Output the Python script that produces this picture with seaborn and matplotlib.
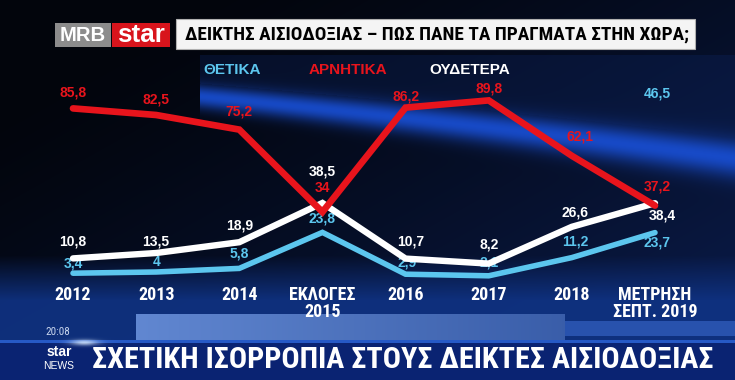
import numpy as np
import pandas as pd
import matplotlib
matplotlib.use("Agg")
import matplotlib.pyplot as plt
import seaborn as sns
from matplotlib import font_manager as fm
from matplotlib.patches import Rectangle

# ---------------- data ----------------
categories = ["2012", "2013", "2014", "ΕΚΛΟΓΕΣ\n2015", "2016", "2017", "2018", "ΜΕΤΡΗΣΗ\nΣΕΠΤ. 2019"]
positive = [3.4, 4, 5.8, 23.8, 2.9, 2.1, 11.2, 23.7]
negative = [85.8, 82.5, 75.2, 34, 86.2, 89.8, 62.1, 37.2]
neutral = [10.8, 13.5, 18.9, 38.5, 10.7, 8.2, 26.6, 38.4]
series_names = ["ΘΕΤΙΚΑ", "ΑΡΝΗΤΙΚΑ", "ΟΥΔΕΤΕΡΑ"]
extra_positive_label = 46.5
title_text = "ΔΕΙΚΤΗΣ ΑΙΣΙΟΔΟΞΙΑΣ – ΠΩΣ ΠΑΝΕ ΤΑ ΠΡΑΓΜΑΤΑ ΣΤΗΝ ΧΩΡΑ;"
headline_text = "ΣΧΕΤΙΚΗ ΙΣΟΡΡΟΠΙΑ ΣΤΟΥΣ ΔΕΙΚΤΕΣ ΑΙΣΙΟΔΟΞΙΑΣ"
time_text = "20:08"

# ---------------- style ----------------
sns.set_theme(style="dark")
plt.rcParams["font.family"] = ["Liberation Sans", "DejaVu Sans"]


def find_narrow():
    for fam in ["Liberation Sans Narrow", "Roboto Condensed", "Open Sans Condensed"]:
        try:
            fm.findfont(fm.FontProperties(family=fam), fallback_to_default=False)
            return dict(family=fam)
        except Exception:
            pass
    return dict(family="DejaVu Sans", stretch="condensed")


NARROW = find_narrow()

C_POS = "#5cc6ee"
C_NEG = "#e8141c"
C_NEU = "#ffffff"

W, H = 735, 380
fig = plt.figure(figsize=(W / 100, H / 100), dpi=100)

# ---------------- background (pixel coordinates) ----------------
bg = fig.add_axes([0, 0, 1, 1])
bg.set_axis_off()
yy, xx = np.mgrid[0:H, 0:W].astype(float)
xf = xx / W
yf = yy / H


def mix(a, b, t):
    return a * (1 - t[..., None]) + np.asarray(b) * t[..., None]


black = np.array([0.01, 0.02, 0.05])
navy = np.array([0.04, 0.11, 0.30])
blue = np.array([0.06, 0.20, 0.52])
t = np.clip(0.65 * xf + 0.6 * yf - 0.2, 0, 1) ** 1.2
img = mix(np.broadcast_to(black, (H, W, 3)), navy, t)
# bluer area under the chart (x-label strip)
b = np.clip((yy - 255) / 45, 0, 1)
img = mix(img, blue, b * 0.9)

# swoosh: soft glowing band across the chart
cx = np.array([200, 400, 735.0])
cy = np.array([96, 117, 158.0])
coef = np.polyfit(cx, cy, 2)
center = np.polyval(coef, xx)
half = 13 + 8 * np.clip((xx - 200) / 535, 0, 1)
d = (yy - center) / half
glow = np.exp(-d ** 2 * 1.2) * (xx >= 200)
img = mix(img, [0.10, 0.32, 0.86], glow * 0.88)
# faint lighter panel above the swoosh
panel = ((xx >= 200) & (yy >= 55) & (yy < center - half)) * 0.3
img = mix(img, [0.05, 0.15, 0.40], panel)

# light band under the x labels
band1 = ((xx >= 136) & (xx < 565) & (yy >= 314) & (yy < 340)).astype(float)
lb = np.clip(1 - (xx - 136) / 900, 0.45, 1)
img = mix(img, [0.38, 0.53, 0.82], band1 * lb)
band2 = ((xx >= 565) & (yy >= 321) & (yy < 336)).astype(float)
img = mix(img, [0.20, 0.38, 0.76], band2 * 0.7)
# bottom banner
banner = (yy >= 342).astype(float)
img = mix(img, [0.04, 0.14, 0.45], banner)
edge = ((yy >= 340) & (yy < 343)).astype(float)
img = mix(img, [0.15, 0.35, 0.78], edge)
# small flare near the clock
flare = np.exp(-(((xx - 84) / 14) ** 2 + ((yy - 342) / 3) ** 2))
img = mix(img, [0.85, 0.92, 1.0], flare * 0.8)

bg.imshow(np.clip(img, 0, 1), extent=(0, W, H, 0), aspect="auto", zorder=0, interpolation="bilinear")
bg.set_xlim(0, W)
bg.set_ylim(H, 0)

# title bar
bg.add_patch(Rectangle((176, 19), 519, 30, facecolor="#f4f4f4", edgecolor="#b0b0b0", lw=0.8, zorder=3))
bg.add_patch(Rectangle((55, 23), 56, 24, color="#8c8c8c", lw=0, zorder=3))
bg.add_patch(Rectangle((112, 23), 58, 24, color="#d8141c", lw=0, zorder=3))

renderer = fig.canvas.get_renderer()


def fit(txt, width):
    bb = txt.get_window_extent(renderer)
    txt.set_fontsize(txt.get_fontsize() * width / bb.width)


t_title = bg.text(437, 34.5, title_text, ha="center", va="center", color="black",
                  fontweight="bold", fontsize=20, zorder=4, **NARROW)
fit(t_title, 504)
t_mrb = bg.text(83, 35.5, "MRB", ha="center", va="center", color="white",
                fontweight="bold", fontsize=14, zorder=4)
fit(t_mrb, 46)
t_star = bg.text(141, 35, "star", ha="center", va="center", color="white",
                 fontweight="bold", fontsize=14, zorder=4)
fit(t_star, 48)

# legend-like header
for name, col, x in zip(series_names, [C_POS, C_NEG, C_NEU], [232, 348, 470]):
    bg.text(x, 70, name, ha="center", va="center", color=col, fontweight="bold", fontsize=11, zorder=4)

# stray label at top right
bg.text(657, 93, f"{extra_positive_label}".replace(".", ","), ha="center", va="center",
        color=C_POS, fontweight="bold", fontsize=10, zorder=4)

# bottom texts
bg.text(58, 332, time_text, ha="center", va="center", color="#c9d6ee", fontsize=8, zorder=4, **NARROW)
bg.text(59, 352, "star", ha="center", va="center", color="white", fontweight="bold", fontsize=10, zorder=4)
bg.text(59, 366, "NEWS", ha="center", va="center", color="white", fontsize=7.5, zorder=4)
t_head = bg.text(402.5, 360, headline_text, ha="center", va="center", color="white",
                 fontweight="bold", fontsize=26, zorder=4, **NARROW)
fit(t_head, 619)

# ---------------- chart ----------------
ax = fig.add_axes([0, 0, 1, 1])
ax.patch.set_alpha(0)
X0, XS = 73, (655 - 73) / 7
Y0, YS = 280, 2.0
n = len(categories)
df = pd.DataFrame({
    "idx": list(range(n)) * 3,
    "value": positive + neutral + negative,
    "series": [series_names[0]] * n + [series_names[2]] * n + [series_names[1]] * n,
})
sns.lineplot(data=df, x="idx", y="value", hue="series",
             hue_order=[series_names[0], series_names[2], series_names[1]],
             palette={series_names[0]: C_POS, series_names[1]: C_NEG, series_names[2]: C_NEU},
             linewidth=4.3, legend=False, ax=ax)
for ln, lw in zip(ax.lines, [4.0, 4.6, 4.8]):
    ln.set_linewidth(lw)
    ln.set_solid_joinstyle("miter")
    ln.set_zorder(3)
ax.set_xlim(-X0 / XS, (W - X0) / XS)
ax.set_ylim(-(H - Y0) / YS, Y0 / YS)
ax.set_axis_off()


def fmt(v):
    return f"{v:g}".replace(".", ",")


# label offsets (pixels)
neg_off = [(0, 16), (0, 16), (0, 18), (0, 24), (0, 11), (0, 12), (8, 19), (2, 19)]
neu_off = [(0, 17), (0, 12), (0, 17), (0, 32), (5, 17), (0, 19), (3, 14), (7, -12)]
pos_off = [(0, 10), (0, 10), (0, 15), (0, 14), (2, 12), (0, 13), (3, 16), (2, -10)]

for vals, offs, col, z in [(negative, neg_off, C_NEG, 2.5), (neutral, neu_off, C_NEU, 5),
                           (positive, pos_off, C_POS, 2.5)]:
    for i, (v, (dx, dy)) in enumerate(zip(vals, offs)):
        ax.annotate(fmt(v), (i, v), xytext=(dx, dy), textcoords="offset pixels",
                    ha="center", va="center", color=col, fontsize=10, fontweight="bold", zorder=z)

# category labels
for i, cat in enumerate(categories):
    for k, line in enumerate(cat.split("\n")):
        ax.text(i, (Y0 - (300 + 17 * k)) / YS, line, ha="center", va="baseline",
                color="white", fontweight="bold", fontsize=13, zorder=4, **NARROW)

fig.savefig("out.png", dpi=100)
